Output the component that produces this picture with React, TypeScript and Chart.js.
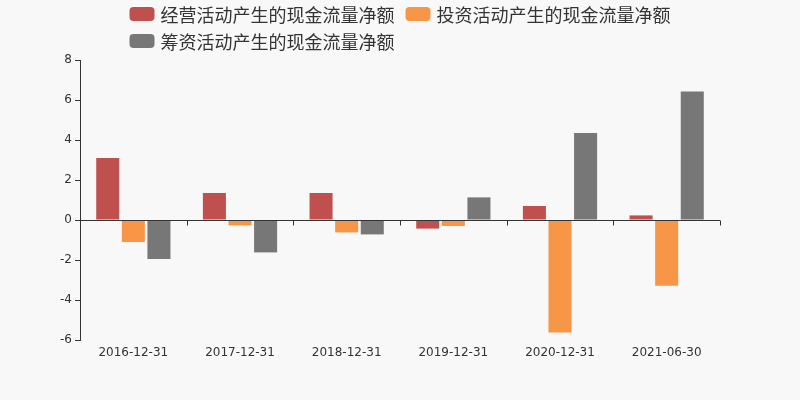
import React, { useEffect, useRef } from "react";
import { Chart, registerables } from "chart.js";

Chart.register(...registerables);

const categories = ["2016-12-31", "2017-12-31", "2018-12-31", "2019-12-31", "2020-12-31", "2021-06-30"];
const operating = [3.1, 1.35, 1.35, -0.43, 0.7, 0.23];
const investing = [-1.1, -0.27, -0.62, -0.3, -5.62, -3.29];
const financing = [-1.95, -1.62, -0.72, 1.13, 4.35, 6.43];
const seriesNames = ["经营活动产生的现金流量净额", "投资活动产生的现金流量净额", "筹资活动产生的现金流量净额"];
const seriesColors = ["#c0504d", "#f79646", "#777777"];

const FONT = "'DejaVu Sans', 'Noto Sans CJK SC', sans-serif";
const LEGEND_FONT = "'Noto Sans CJK SC', 'DejaVu Sans', sans-serif";

const customLegend = {
  id: "customLegend",
  afterDraw(chart: any) {
    const ctx = chart.ctx;
    const W = chart.width;
    const size = 18;
    const boxW = 25, boxH = 14, textGap = 6, itemGap = 11;
    const rowHeights = [14, 41];
    ctx.save();
    ctx.font = `${size}px ${LEGEND_FONT}`;
    const items = chart.data.datasets.map((d: any) => ({
      label: d.label,
      color: d.backgroundColor,
      w: boxW + textGap + ctx.measureText(d.label).width,
    }));
    const maxW = W - 100;
    const rows: any[][] = [[]];
    let cur = 0;
    items.forEach((it: any) => {
      const add = (rows[rows.length - 1].length ? itemGap : 0) + it.w;
      if (cur + add > maxW && rows[rows.length - 1].length) {
        rows.push([it]);
        cur = it.w;
      } else {
        rows[rows.length - 1].push(it);
        cur += add;
      }
    });
    const rowW = rows.map((r) => r.reduce((s, it, i) => s + it.w + (i ? itemGap : 0), 0));
    const blockW = Math.max(...rowW);
    const startX = (W - blockW) / 2;
    rows.forEach((r, ri) => {
      let x = startX;
      const cy = rowHeights[ri] ?? 14 + ri * 27;
      r.forEach((it: any) => {
        ctx.fillStyle = it.color;
        ctx.beginPath();
        (ctx as any).roundRect(x, cy - boxH / 2, boxW, boxH, 4);
        ctx.fill();
        ctx.fillStyle = "#333";
        ctx.textBaseline = "middle";
        ctx.textAlign = "left";
        ctx.fillText(it.label, x + boxW + textGap, cy + 1);
        x += it.w + itemGap;
      });
    });
    ctx.restore();
  },
};

const zeroAxis = {
  id: "zeroAxis",
  afterDatasetsDraw(chart: any) {
    const ctx = chart.ctx;
    const y = Math.round(chart.scales.y.getPixelForValue(0)) + 0.5;
    const left = chart.chartArea.left;
    const right = chart.chartArea.right;
    const n = categories.length;
    ctx.save();
    ctx.strokeStyle = "#333";
    ctx.lineWidth = 1;
    ctx.beginPath();
    ctx.moveTo(left, y);
    ctx.lineTo(right, y);
    for (let i = 0; i <= n; i++) {
      const px = Math.round(left + ((right - left) * i) / n) + 0.5;
      ctx.moveTo(px, y);
      ctx.lineTo(px, y + 5);
    }
    ctx.stroke();
    ctx.restore();
  },
};

export default function App() {
  const ref = useRef<HTMLCanvasElement | null>(null);
  useEffect(() => {
    document.body.style.margin = "0";
    const chart = new Chart(ref.current!, {
      type: "bar",
      data: {
        labels: categories,
        datasets: [
          { label: seriesNames[0], data: operating, backgroundColor: seriesColors[0] },
          { label: seriesNames[1], data: investing, backgroundColor: seriesColors[1] },
          { label: seriesNames[2], data: financing, backgroundColor: seriesColors[2] },
        ],
      },
      options: {
        animation: false,
        responsive: false,
        maintainAspectRatio: false,
        datasets: { bar: { categoryPercentage: 0.72, barPercentage: 0.9 } },
        layout: { padding: { left: 0, right: 80, top: 60, bottom: 0 } },
        plugins: { legend: { display: false }, tooltip: { enabled: false } },
        scales: {
          x: {
            grid: { display: false, drawTicks: false },
            border: { display: false },
            ticks: { color: "#333", font: { size: 12, family: FONT }, padding: 6, maxRotation: 0 },
            afterFit: (s: any) => { s.height = 60; },
          },
          y: {
            min: -6,
            max: 8,
            grid: { drawOnChartArea: false, drawTicks: true, tickLength: 5, color: "#333" },
            border: { display: true, color: "#333" },
            ticks: { stepSize: 2, color: "#333", font: { size: 12, family: FONT }, padding: 3 },
            afterFit: (s: any) => { s.width = 80; },
          },
        },
      },
      plugins: [customLegend, zeroAxis],
    });
    return () => chart.destroy();
  }, []);
  return (
    <div style={{ width: 800, height: 400, background: "#f8f8f8" }}>
      <canvas ref={ref} width={800} height={400} style={{ display: "block" }} />
    </div>
  );
}
